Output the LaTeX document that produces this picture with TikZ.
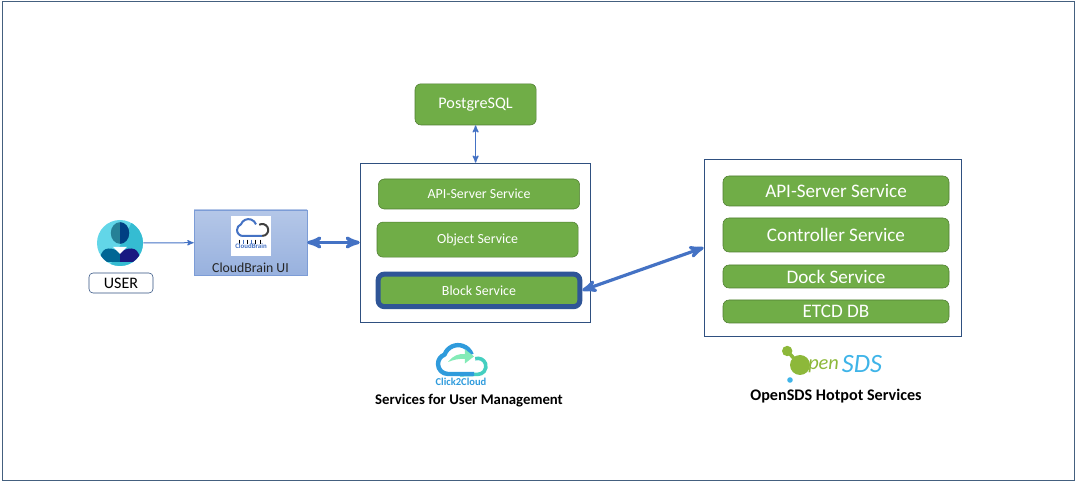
\documentclass[tikz,border=0pt]{standalone}
\usepackage{fontspec}
\setmainfont{Carlito}
\usetikzlibrary{positioning}
\usetikzlibrary{arrows}
\definecolor{svcgreen}{HTML}{70AD47}
\definecolor{svcline}{HTML}{507E32}
\definecolor{boxline}{HTML}{2F5080}
\definecolor{frameline}{HTML}{44607F}
\definecolor{arrowblue}{HTML}{4472C4}
\definecolor{blockblue}{HTML}{2F5597}
\definecolor{sdsblue}{HTML}{3FB4E8}
\definecolor{sdsgreen}{HTML}{8DB83A}
\definecolor{cloudblue}{HTML}{2F9BDC}
\definecolor{cloudteal}{HTML}{45CFC0}
\tikzset{>=stealth'}
\tikzset{svc/.style={draw=svcline,fill=svcgreen,rounded corners=1.5mm,text=white,inner sep=0pt}}
\tikzset{svcsmall/.style={svc,minimum width=5.03cm,font=\fontsize{9.9}{12}\selectfont}}
\tikzset{svclarge/.style={svc,minimum width=5.65cm,font=\fontsize{13.6}{16}\selectfont}}
\tikzset{group/.style={draw=boxline,fill=white,inner sep=0pt}}
\tikzset{caption/.style={inner sep=0pt,font=\fontsize{10.5}{12}\selectfont\bfseries}}
\tikzset{link/.style={<->,arrowblue,line width=0.3mm}}
\tikzset{linkthick/.style={<->,arrowblue,line width=0.8mm}}
\begin{document}
\begin{tikzpicture}[on grid]
        \useasboundingbox (0,0) rectangle (26.95,12.15);
        \draw[draw=frameline,line width=0.25mm] (0.05,0.125) rectangle (26.85,12.1);

        \node[svc, minimum width=3.03cm, minimum height=1.03cm, font=\fontsize{11.5}{14}\selectfont] (pg) at (11.89, 9.54) {PostgreSQL};

        \node[group, minimum width=5.75cm, minimum height=3.975cm] (leftbox) at (11.875, 6.0875) {};
        \node[svcsmall, minimum height=0.75cm] (api) at (11.975, 7.3) {API-Server Service};
        \node[svcsmall, minimum height=0.875cm, below=1.14 of api, xshift=-0.035cm] (obj) {Object Service};
        \node[svcsmall, draw=blockblue, line width=0.125cm, minimum width=5.04cm, minimum height=0.81cm, below=2.41 of api] (blk) {Block Service};

        \node[group, minimum width=6.425cm, minimum height=4.425cm] (rightbox) at (20.81, 5.96) {};
        \node[svclarge, minimum height=0.75cm] (rapi) at (20.9, 7.375) {API-Server Service};
        \node[svclarge, minimum height=0.85cm, below=1.1 of rapi] (rctl) {Controller Service};
        \node[svclarge, minimum height=0.575cm, below=1.0375 of rctl] (rdock) {Dock Service};
        \node[svclarge, minimum height=0.575cm, below=0.875 of rdock] (retcd) {ETCD DB};

        % user icon
        \definecolor{usercyan}{HTML}{62D6E8}
        \definecolor{usershade}{HTML}{35BCD2}
        \node[circle, fill=usercyan, minimum size=1.15cm, inner sep=0pt] (user) at (3, 6.075) {};
        \begin{scope}
            \clip (3, 6.075) circle (0.575);
            \fill[usershade] (3.3, 6.6) -- (3.7, 6.2) -- (3.7, 5.4) -- (2.7, 5.4) -- cycle;
            \fill[blue!30!black!60!cyan] (2.5, 5.6) .. controls (2.5, 5.95) and (2.7, 6.02) .. (3, 5.85) -- (3, 5.6) -- cycle;
            \fill[blue!45!black!90] (3, 5.6) -- (3, 5.85) .. controls (3.3, 6.02) and (3.5, 5.95) .. (3.5, 5.6) -- cycle;
            \fill[white] (2.82, 5.98) -- (3, 5.8) -- (3.18, 5.98) -- cycle;
        \end{scope}
        \fill[blue!25!black!50!cyan!70!gray] (3, 6.325) ellipse (0.23 and 0.27);
        \fill[blue!35!black!75!cyan] (3, 6.595) arc (90:-90:0.23 and 0.27) -- cycle;
        \node[draw=boxline, rounded corners=1mm, minimum width=1.6cm, minimum height=0.5cm, inner sep=0pt, font=\fontsize{11.4}{13}\selectfont] (userlbl) at (3.025, 5.075) {USER};

        % cloudbrain box
        \node[draw=arrowblue!70, top color=arrowblue!40!white, bottom color=arrowblue!55!white, minimum width=2.825cm, minimum height=1.625cm, inner sep=0pt] (cb) at (6.2625, 6.0875) {};
        \node[fill=white, minimum size=1cm, inner sep=0pt] (cblogo) at (6.275, 6.25) {};
        \draw[arrowblue, line width=0.5mm, line join=round] (6.55, 6.25) -- (6.075, 6.25) arc (270:110:0.15) arc (160:20:0.2);
        \draw[black!75, line width=0.5mm] (6.48, 6.53) arc (120:-90:0.15);
        \foreach \px/\col in {5.98/black,6.08/arrowblue,6.18/black,6.28/arrowblue,6.38/black,6.5/black}
            \draw[\col, line width=0.2mm] (\px, 6.16) -- (\px, 6.06);
        \node[inner sep=0pt, text=arrowblue, font=\fontsize{4.9}{5}\selectfont\bfseries] (cbname) at (6.275, 5.99) {CloudBrain};
        \node[inner sep=0pt, font=\fontsize{9.8}{11}\selectfont, text=black!85] (cbtitle) at (6.2625, 5.45) {CloudBrain UI};

        % click2cloud logo
        \draw[cloudteal, line width=0.09cm] (11.88, 3.18) arc (110:-90:0.2) -- (11.5, 2.78);
        \draw[cloudblue, line width=0.11cm, line join=round] (11.85, 2.8) -- (11.2, 2.8) arc (270:110:0.25) arc (160:20:0.36);
        \fill[cloudteal!70!green!60!white] (11.2, 3.1) .. controls (11.35, 3.28) and (11.45, 3.3) .. (11.62, 3.3) -- (11.62, 3.42) -- (11.85, 3.24) -- (11.62, 3.06) -- (11.62, 3.18) .. controls (11.45, 3.18) and (11.35, 3.16) .. (11.2, 3.1) -- cycle;
        \node[inner sep=0pt, text=cloudblue, font=\fontsize{7.5}{8}\selectfont\bfseries] (c2c) at (11.525, 2.6) {Click2Cloud};
        \node[caption] (lcap) at (11.725, 2.125) {Services for User Management};

        % opensds logo
        \fill[sdsgreen] (19.68, 3.375) circle (0.13);
        \fill[sdsgreen] (20.0, 3.025) circle (0.25);
        \draw[sdsgreen, line width=0.9mm] (19.68, 3.375) -- (20.0, 3.025);
        \fill[sdsblue] (19.75, 2.65) circle (0.07);
        \node[inner sep=0pt, text=sdsgreen, font=\fontsize{14.5}{16}\selectfont\itshape] (sdspen) at (20.59, 3.0) {pen};
        \node[inner sep=0pt, text=sdsblue, font=\fontsize{18.8}{20}\selectfont\itshape] (sdsname) at (21.55, 3.05) {SDS};
        \node[caption, font=\fontsize{11.5}{13}\selectfont\bfseries] (rcap) at (20.9, 2.25) {OpenSDS Hotpot Services};

        \draw [->, arrowblue, line width=0.25mm] (user) -- (cb);
        \draw [linkthick] (cb) -- (leftbox);
        \draw [link] (pg.south) -- (pg.south |- leftbox.north);
        \draw [linkthick] (blk.east) -- (rightbox.west);
    \end{tikzpicture}
\end{document}
